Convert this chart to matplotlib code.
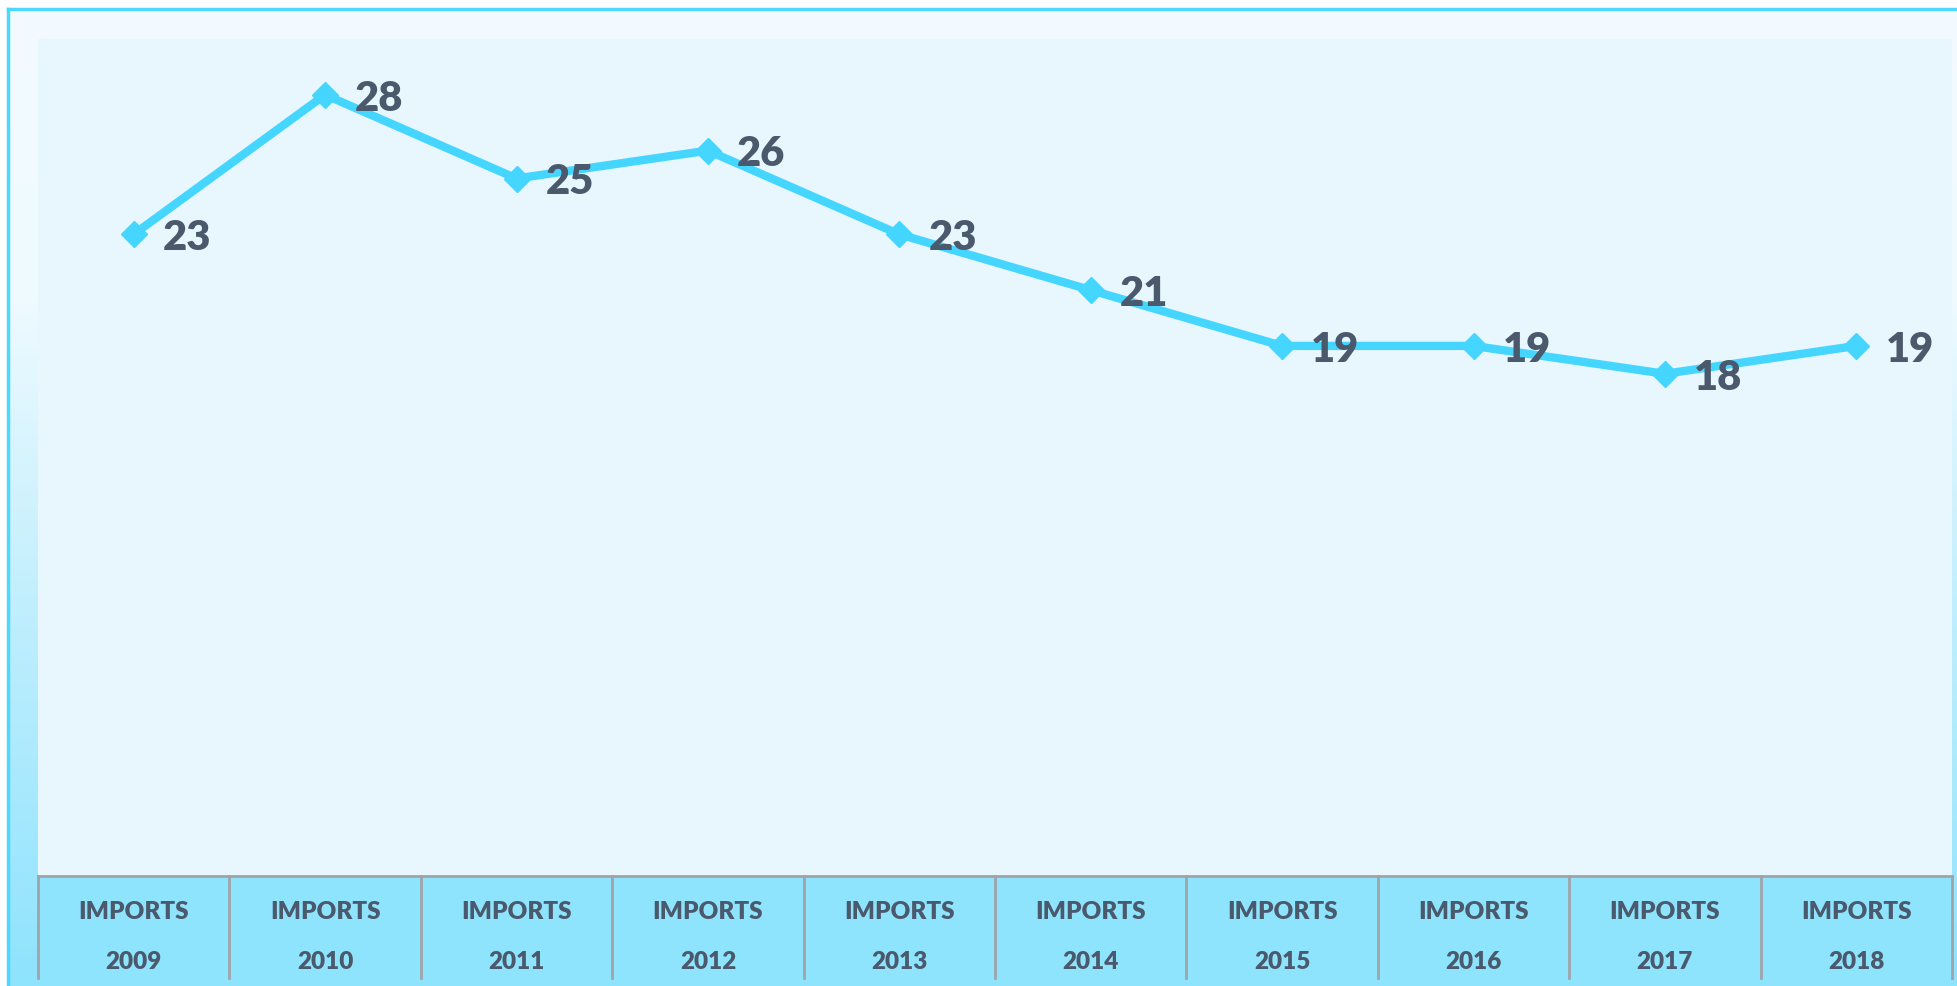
import numpy as np
import matplotlib
matplotlib.use("Agg")
import matplotlib.pyplot as plt
from matplotlib.colors import LinearSegmentedColormap

years = ["2009", "2010", "2011", "2012", "2013", "2014", "2015", "2016", "2017", "2018"]
category = "IMPORTS"
values = [23, 28, 25, 26, 23, 21, 19, 19, 18, 19]

W, H = 1957, 987
line_color = "#45d6ff"
text_color = "#4b596c"
cell_color = "#8ee3fd"
plot_bg = "#e8f7fe"

fig = plt.figure(figsize=(W / 100, H / 100), dpi=100)
fig.patch.set_facecolor("white")

# outer frame with vertical gradient
bg = fig.add_axes([8 / W, 0, 1 - 8 / W, 1 - 10 / H])
bg.set_axis_off()
cmap = LinearSegmentedColormap.from_list("grad", [(0, "#f3fbff"), (0.3, "#eefaff"), (0.6, "#c2effd"), (1, cell_color)])
grad = np.linspace(0, 1, 256).reshape(-1, 1)
bg.imshow(grad, aspect="auto", cmap=cmap, extent=[0, 1, 0, 1], origin="upper")
bg.set_xlim(0, 1)
bg.set_ylim(0, 1)
bg.plot([0, 0], [0, 1], color="#4dd8ff", lw=2.5, clip_on=False)
bg.plot([0, 1], [1, 1], color="#4dd8ff", lw=2.5, clip_on=False)

# main plot area
left, right = 38, 1952
top, table_top, table_bot = 40, 877, 979
ax = fig.add_axes([left / W, 1 - table_top / H, (right - left) / W, (table_top - top) / H])
ax.set_facecolor(plot_bg)
x = np.arange(len(values)) + 0.5
ax.plot(x, values, color=line_color, lw=6, marker="D", ms=13, mec=line_color, mfc=line_color, zorder=3)
for xi, v in zip(x, values):
    ax.annotate(str(v), (xi, v), xytext=(21, -2), textcoords="offset points",
                ha="left", va="center", fontsize=30, fontweight="heavy",
                family="Lato", color=text_color, zorder=4)
ax.set_xlim(0, len(values))
ax.set_ylim(0, 30)
ax.set_xticks([])
ax.set_yticks([])
for s in ax.spines.values():
    s.set_visible(False)

# category table below
tb = fig.add_axes([left / W, 1 - table_bot / H, (right - left) / W, (table_bot - table_top) / H])
tb.set_xlim(0, len(values))
tb.set_ylim(0, 1)
tb.set_axis_off()
tb.add_patch(plt.Rectangle((0, 0), len(values), 1, color=cell_color, zorder=0))
tb.plot([0, len(values)], [1, 1], color="#a0a4aa", lw=2, clip_on=False)
for i in range(len(values) + 1):
    tb.plot([i, i], [0, 1], color="#a0a4aa", lw=2, clip_on=False)
for i, yr in enumerate(years):
    tb.text(i + 0.5, 0.66, category, ha="center", va="center", fontsize=17.5,
            fontweight="heavy", family="Lato", color=text_color)
    tb.text(i + 0.5, 0.17, yr, ha="center", va="center", fontsize=17.5,
            fontweight="heavy", family="Lato", color=text_color)

fig.savefig("out.png", dpi=100)
